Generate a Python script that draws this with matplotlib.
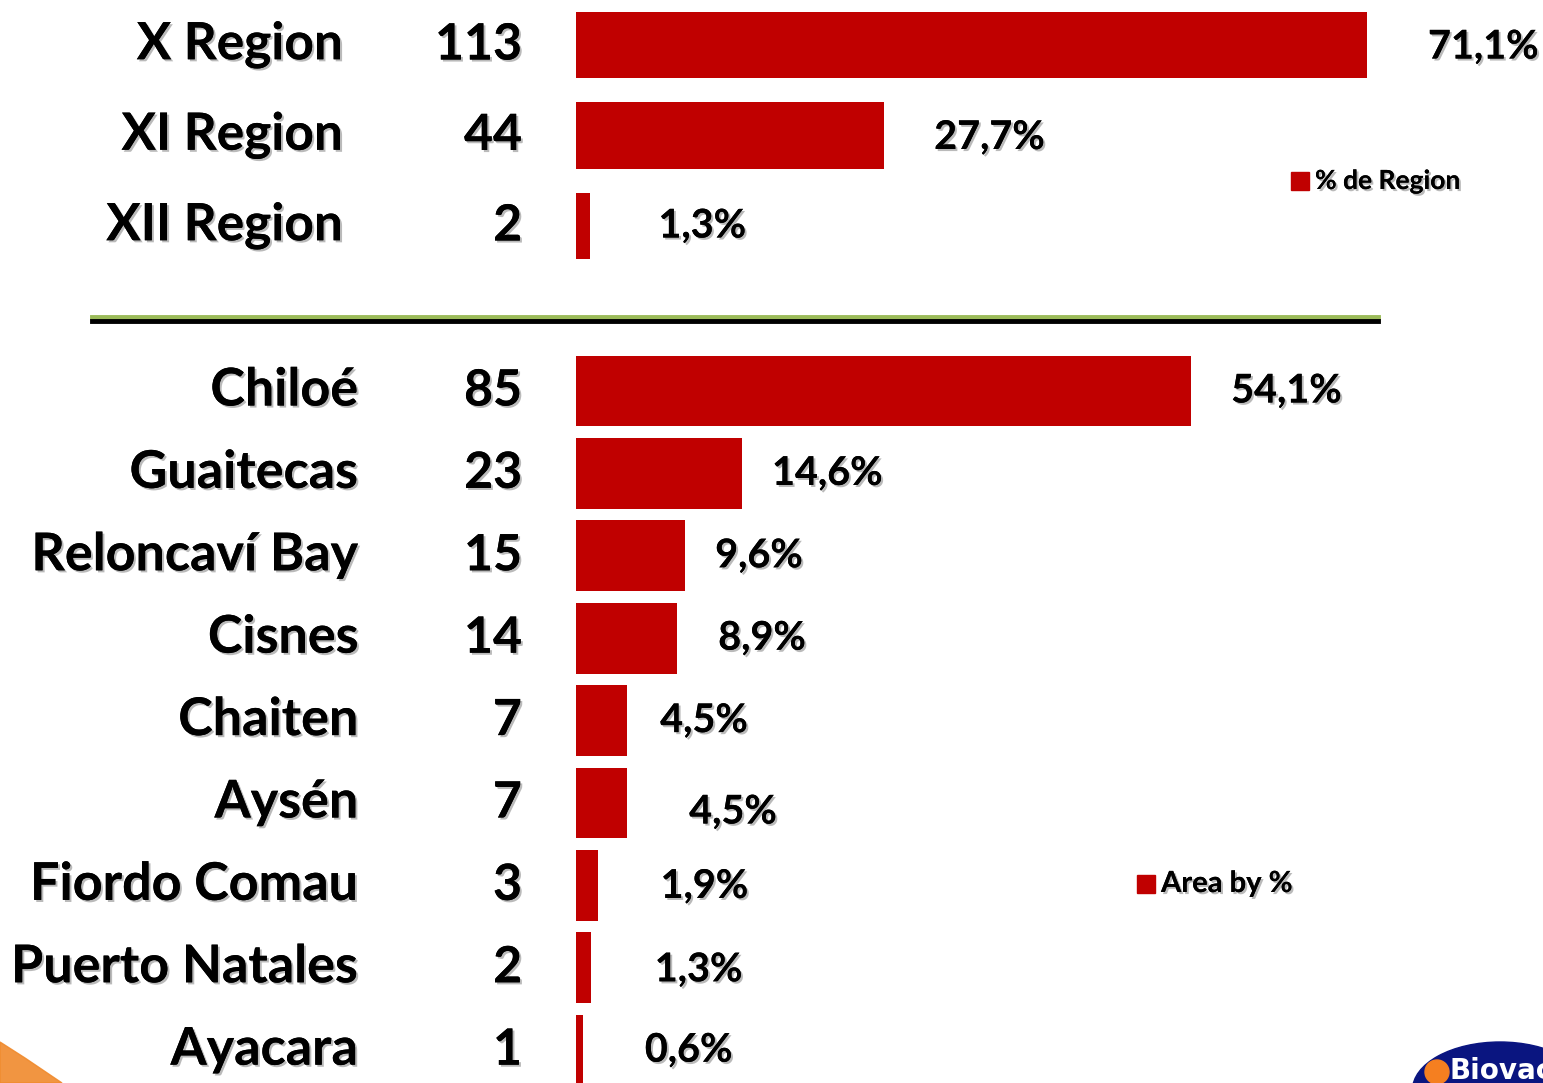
import matplotlib
matplotlib.use("Agg")
import matplotlib.pyplot as plt
import matplotlib.patheffects as pe
import matplotlib.transforms as mtransforms
from matplotlib.patches import Ellipse, Polygon, Rectangle
from matplotlib.lines import Line2D

# data
regions = ["X Region", "XI Region", "XII Region"]
region_counts = [113, 44, 2]
region_pct = [71.1, 27.7, 1.3]

areas = ["Chiloé", "Guaitecas", "Reloncaví Bay", "Cisnes", "Chaiten",
         "Aysén", "Fiordo Comau", "Puerto Natales", "Ayacara"]
area_counts = [85, 23, 15, 14, 7, 7, 3, 2, 1]
area_pct = [54.1, 14.6, 9.6, 8.9, 4.5, 4.5, 1.9, 1.3, 0.6]

# label offsets from bar end (pixels), as placed on the slide
region_dx = [61, 50, 68]
region_dy = [2, 2, 0]
area_dx = [40, 30, 30, 41, 33, 62, 63, 64, 62]
area_dy = [0, 0, 0, 0, 0, 9, 1, 2, 0]

W, H = 1543, 1083
RED = "#C00000"
FONT = "Lato"

fig = plt.figure(figsize=(W / 100, H / 100), dpi=100)
fig.patch.set_facecolor("white")

shadow = [pe.withSimplePatchShadow(offset=(1.5, -1.5), shadow_rgbFace="#777777", alpha=0.5), pe.Normal()]


def fx(x):
    return x / W


def fy(y):
    return 1 - y / H


def make_axes(top_px, bottom_px, xmax):
    ax = fig.add_axes([fx(576), fy(bottom_px), (W - 576) / W, (bottom_px - top_px) / H])
    ax.set_xlim(0, xmax)
    ax.axis("off")
    return ax


def draw_panel(ax, names, counts, pct, dx, dy, height, name_x, name_size, num_size, pct_size):
    n = len(names)
    ax.set_ylim(n - 0.5, -0.5)
    pos = list(range(n))
    ax.barh(pos, pct, height=height, color=RED, left=0)
    trans = mtransforms.blended_transform_factory(fig.transFigure, ax.transData)
    for i in pos:
        ax.text(fx(name_x), i, names[i], transform=trans, ha="right", va="center",
                fontsize=name_size, fontweight="bold", family=FONT, path_effects=shadow)
        ax.text(fx(522), i, str(counts[i]), transform=trans, ha="right", va="center",
                fontsize=num_size, fontweight="bold", family=FONT, path_effects=shadow)
        lab = ("%.1f%%" % pct[i]).replace(".", ",")
        ax.annotate(lab, (pct[i], i), xytext=(dx[i] * 0.72, -dy[i] * 0.72),
                    textcoords="offset points", ha="left", va="center",
                    fontsize=pct_size, fontweight="bold", family=FONT, path_effects=shadow)


ax1 = make_axes(-0.25, 271.25, (W - 576) / 11.125)
draw_panel(ax1, regions, region_counts, region_pct, region_dx, region_dy, 0.73, 343, 37, 36, 28.5)

ax2 = make_axes(349.8, 391 + 8.5 * 82.4, (W - 576) / 11.37)
draw_panel(ax2, areas, area_counts, area_pct, area_dx, area_dy, 0.86, 358, 37.5, 36, 28.5)

# separator: green over black
fig.add_artist(Line2D([fx(92), fx(1378)], [fy(317), fy(317)], color="#9BBB59", lw=3.5))
fig.add_artist(Line2D([fx(92), fx(1378)], [fy(321.5), fy(321.5)], color="black", lw=3.5))

# legends
for (sx, sy, txt, fs) in [(1291, 172, "% de Region", 19), (1137, 875, "Area by %", 21)]:
    fig.add_artist(Rectangle((fx(sx), fy(sy + 18)), 18 / W, 18 / H, color=RED, transform=fig.transFigure))
    fig.text(fx(sx + 24), fy(sy + 9), txt, ha="left", va="center", fontsize=fs,
             fontweight="bold", family=FONT, path_effects=shadow)

# orange swoosh bottom left
fig.add_artist(Polygon([(fx(0), fy(1042)), (fx(25), fy(1058)), (fx(62), fy(1083)), (fx(0), fy(1083))],
                       closed=True, color="#F08A2C", alpha=0.9, transform=fig.transFigure))

# logo bottom right (cut off by the slide edge)
fig.add_artist(Ellipse((fx(1500), fy(1090)), 175 / W, 96 / H, color="#0A1580", transform=fig.transFigure))
fig.add_artist(Ellipse((fx(1437), fy(1072)), 24 / W, 24 / H, color="#F57F20", transform=fig.transFigure))
fig.text(fx(1450), fy(1071), "Biovac", ha="left", va="center", fontsize=20, fontweight="bold",
         color="white", family="Liberation Sans Narrow")

fig.savefig("out.png", dpi=100, facecolor="white")
